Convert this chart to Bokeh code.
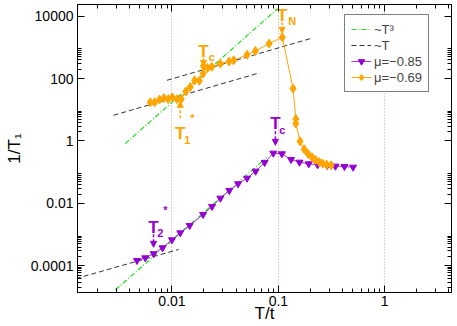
import numpy as np
from bokeh.plotting import figure
from bokeh.models import (Range1d, FixedTicker, LogAxis, CustomJSTickFormatter,
                          Legend, LegendItem, Arrow, NormalHead)
from bokeh.core.properties import value
from bokeh.embed import file_html
from bokeh.resources import INLINE

# ---------------- data ----------------
# mu = -0.69 (orange)
orange_T = [0.00625, 0.00689, 0.00764, 0.00841, 0.00923, 0.01007, 0.01115, 0.01223,
            0.01349, 0.01486, 0.01632, 0.01807, 0.0196, 0.0198, 0.0216, 0.0237,
            0.0285, 0.0344, 0.0380, 0.0508, 0.0608, 0.0819, 0.109, 0.1375,
            0.146, 0.146, 0.160, 0.175, 0.1906, 0.2075, 0.223, 0.242, 0.261, 0.285, 0.313]
orange_R = [17.4, 17.4, 21.2, 23.7, 22.0, 25.2, 22.0, 22.0,
            38.6, 53.8, 88.0, 85.0, 145.0, 253.0, 217.0, 239.0,
            302.0, 351.0, 386.0, 579.0, 767.0, 1324.0, 2110.0, 47.8,
            5.07, 3.61, 0.977, 0.542, 0.383, 0.30, 0.246, 0.212, 0.189, 0.175, 0.166]
# mu = -0.85 (purple)
purple_T = [0.00469, 0.00561, 0.00672, 0.00816, 0.0100, 0.01197, 0.01465, 0.0196,
            0.0238, 0.0285, 0.0346, 0.0418, 0.0508, 0.0611, 0.0743, 0.0897,
            0.108, 0.1316, 0.158, 0.193, 0.234, 0.287, 0.344, 0.418, 0.504]
purple_R = [1.48e-4, 1.80e-4, 2.43e-4, 3.78e-4, 6.8e-4, 1.14e-3, 1.96e-3, 4.41e-3,
            7.96e-3, 0.0147, 0.0259, 0.0425, 0.0643, 0.108, 0.205, 0.407,
            0.389, 0.255, 0.209, 0.186, 0.173, 0.164, 0.156, 0.152, 0.145]
# guide lines ~T^3 (green) and ~T (black), endpoints
cube_a_T = [0.00364, 0.098];  cube_a_R = [0.826, 17260.0]
cube_b_T = [0.00294, 0.0784]; cube_b_R = [1.70e-5, 0.303]
lin_a_T = [0.00282, 0.063];   lin_a_R = [6.66, 145.0]
lin_b_T = [0.00897, 0.2];     lin_b_R = [88.2, 1915.0]
lin_c_T = [0.00125, 0.01154]; lin_c_R = [3.9e-5, 3.33e-4]

# ticks
x_major = [0.001, 0.01, 0.1, 1, 10]
x_minor = [k * 10.0 ** e for e in (-3, -2, -1, 0) for k in range(2, 10)]
y_major = [1e-4, 1e-2, 1, 1e2, 1e4]
y_minor = [k * 10.0 ** e for e in (-5, -4, -2, 0, 2) for k in range(2, 10)]

# annotation (positions for labels)
ann_T_x = [0.0198, 0.01197, 0.1084, 0.0938, 0.00671]
ann_T_y = [713.0, 1.726, 10690.0, 3.61, 1.75e-3]
ann_sub = ["c", "1", "N", "c", "2"]
ann_sub_x = [0.0222, 0.01305, 0.1242, 0.1021, 0.00727]
ann_sub_y = [482.0, 1.05, 6870.0, 2.20, 1.10e-3]
ann_star_x = [0.01486, 0.00828]
ann_star_y = [5.35, 6.33e-3]
arrow_x = [0.0198, 0.01197, 0.1084, 0.0938, 0.00671]
arrow_y0 = [647.0, 5.35, 9230.0, 2.05, 1.02e-3]
arrow_y1 = [248.0, 18.7, 2830.0, 0.728, 3.92e-4]

ORANGE = "#FFA500"
PURPLE = "#9400D3"
GREEN = "#22DD22"
ann_colors = [ORANGE, ORANGE, ORANGE, PURPLE, PURPLE]
star_colors = [ORANGE, PURPLE]
FONT = "Liberation Sans"

p = figure(width=456, height=326, x_axis_type="log", y_axis_type="log",
           x_range=Range1d(10 ** -2.888, 10 ** 0.6275),
           y_range=Range1d(10 ** -4.856, 10 ** 4.375),
           output_backend="svg", toolbar_location=None,
           min_border_left=77, min_border_right=5, min_border_top=4, min_border_bottom=34)
p.outline_line_color = "black"
p.outline_line_width = 1
p.background_fill_color = "white"
p.border_fill_color = "white"

xt = FixedTicker(ticks=x_major, minor_ticks=x_minor)
yt = FixedTicker(ticks=y_major, minor_ticks=y_minor)
fmt_code = "return String(tick);"

def style_axis(ax, labels=True):
    ax.axis_line_color = "black"
    ax.major_tick_in = 7
    ax.major_tick_out = 0
    ax.minor_tick_in = 4
    ax.minor_tick_out = 0
    ax.major_tick_line_color = "black"
    ax.minor_tick_line_color = "black"
    if labels:
        ax.major_label_text_font = FONT
        ax.major_label_text_font_size = "14px"
        ax.major_label_text_color = "black"
        ax.major_label_standoff = 4
        ax.axis_label_text_font = FONT
        ax.axis_label_text_font_size = "17px"
        ax.axis_label_text_font_style = "normal"
        ax.axis_label_text_color = "black"
    else:
        ax.major_label_text_font_size = "1px"
        ax.major_label_text_alpha = 0.0
        ax.major_label_standoff = 0

p.xaxis.ticker = xt
p.yaxis.ticker = yt
p.xaxis.formatter = CustomJSTickFormatter(code=fmt_code)
p.yaxis.formatter = CustomJSTickFormatter(code=fmt_code)
style_axis(p.xaxis[0])
style_axis(p.yaxis[0])
p.xaxis.major_label_standoff = 3
p.xaxis.axis_label = "T/t"
p.xaxis.axis_label_standoff = -5
p.yaxis.axis_label = "1/T\u2081"
p.yaxis.axis_label_standoff = 4

top_ax = LogAxis(ticker=xt, formatter=CustomJSTickFormatter(code=fmt_code))
style_axis(top_ax, labels=False)
right_ax = LogAxis(ticker=yt, formatter=CustomJSTickFormatter(code=fmt_code))
style_axis(right_ax, labels=False)
p.add_layout(top_ax, "above")
p.add_layout(right_ax, "right")

p.xgrid.ticker = xt
p.xgrid.grid_line_color = "#D9A0A0"
p.xgrid.grid_line_dash = "1 2"
p.xgrid.grid_line_width = 1
p.ygrid.grid_line_color = None

# guide lines
g1 = p.line(cube_a_T, cube_a_R, line_color=GREEN, line_dash="5 2 1 2", line_width=1.2)
p.line(cube_b_T, cube_b_R, line_color=GREEN, line_dash="5 2 1 2", line_width=1.2)
k1 = p.line(lin_a_T, lin_a_R, line_color="#333333", line_dash="5 3", line_width=1)
p.line(lin_b_T, lin_b_R, line_color="#333333", line_dash="5 3", line_width=1)
p.line(lin_c_T, lin_c_R, line_color="#333333", line_dash="5 3", line_width=1)

# series
pl = p.line(purple_T, purple_R, line_color=PURPLE, line_width=1, line_alpha=0.8)
ps = p.scatter(purple_T, purple_R, marker="inverted_triangle", size=7,
               fill_color=PURPLE, line_color=PURPLE)
ol = p.line(orange_T, orange_R, line_color=ORANGE, line_width=1)
os_ = p.scatter(orange_T, orange_R, marker="diamond", size=9,
                fill_color=ORANGE, line_color=ORANGE)

# annotations
p.text(ann_T_x, ann_T_y, text=["T"] * 5, text_color=ann_colors,
       text_font=value(FONT), text_font_style="bold", text_font_size="17px",
       text_align="center", text_baseline="alphabetic")
p.text(ann_sub_x, ann_sub_y, text=ann_sub, text_color=ann_colors,
       text_font=value(FONT), text_font_style="bold", text_font_size="11px",
       text_align="left", text_baseline="alphabetic")
p.text(ann_star_x, ann_star_y, text=["*"] * 2, text_color=star_colors,
       text_font=value(FONT), text_font_style="bold", text_font_size="11px",
       text_align="left", text_baseline="middle")
for xa, ya, yb, c in zip(arrow_x, arrow_y0, arrow_y1, ann_colors):
    p.add_layout(Arrow(x_start=xa, y_start=ya, x_end=xa, y_end=yb,
                       line_color=c, line_width=1.5, line_dash="3 2",
                       end=NormalHead(size=6, fill_color=c, line_color=c)))

legend = Legend(items=[
    LegendItem(label="~T\u00b3", renderers=[g1]),
    LegendItem(label="~T", renderers=[k1]),
    LegendItem(label="\u03bc=\u22120.85", renderers=[pl, ps]),
    LegendItem(label="\u03bc=\u22120.69", renderers=[ol, os_]),
], location=(267, 200))
legend.border_line_color = "black"
legend.border_line_width = 1
legend.background_fill_alpha = 1
legend.label_text_font = FONT
legend.label_text_font_size = "13px"
legend.label_height = 16
legend.glyph_height = 16
legend.glyph_width = 20
legend.label_standoff = 3
legend.padding = 6
legend.spacing = 0
legend.margin = 0
p.add_layout(legend, "center")

open("out.html", "w").write(file_html(p, INLINE))
